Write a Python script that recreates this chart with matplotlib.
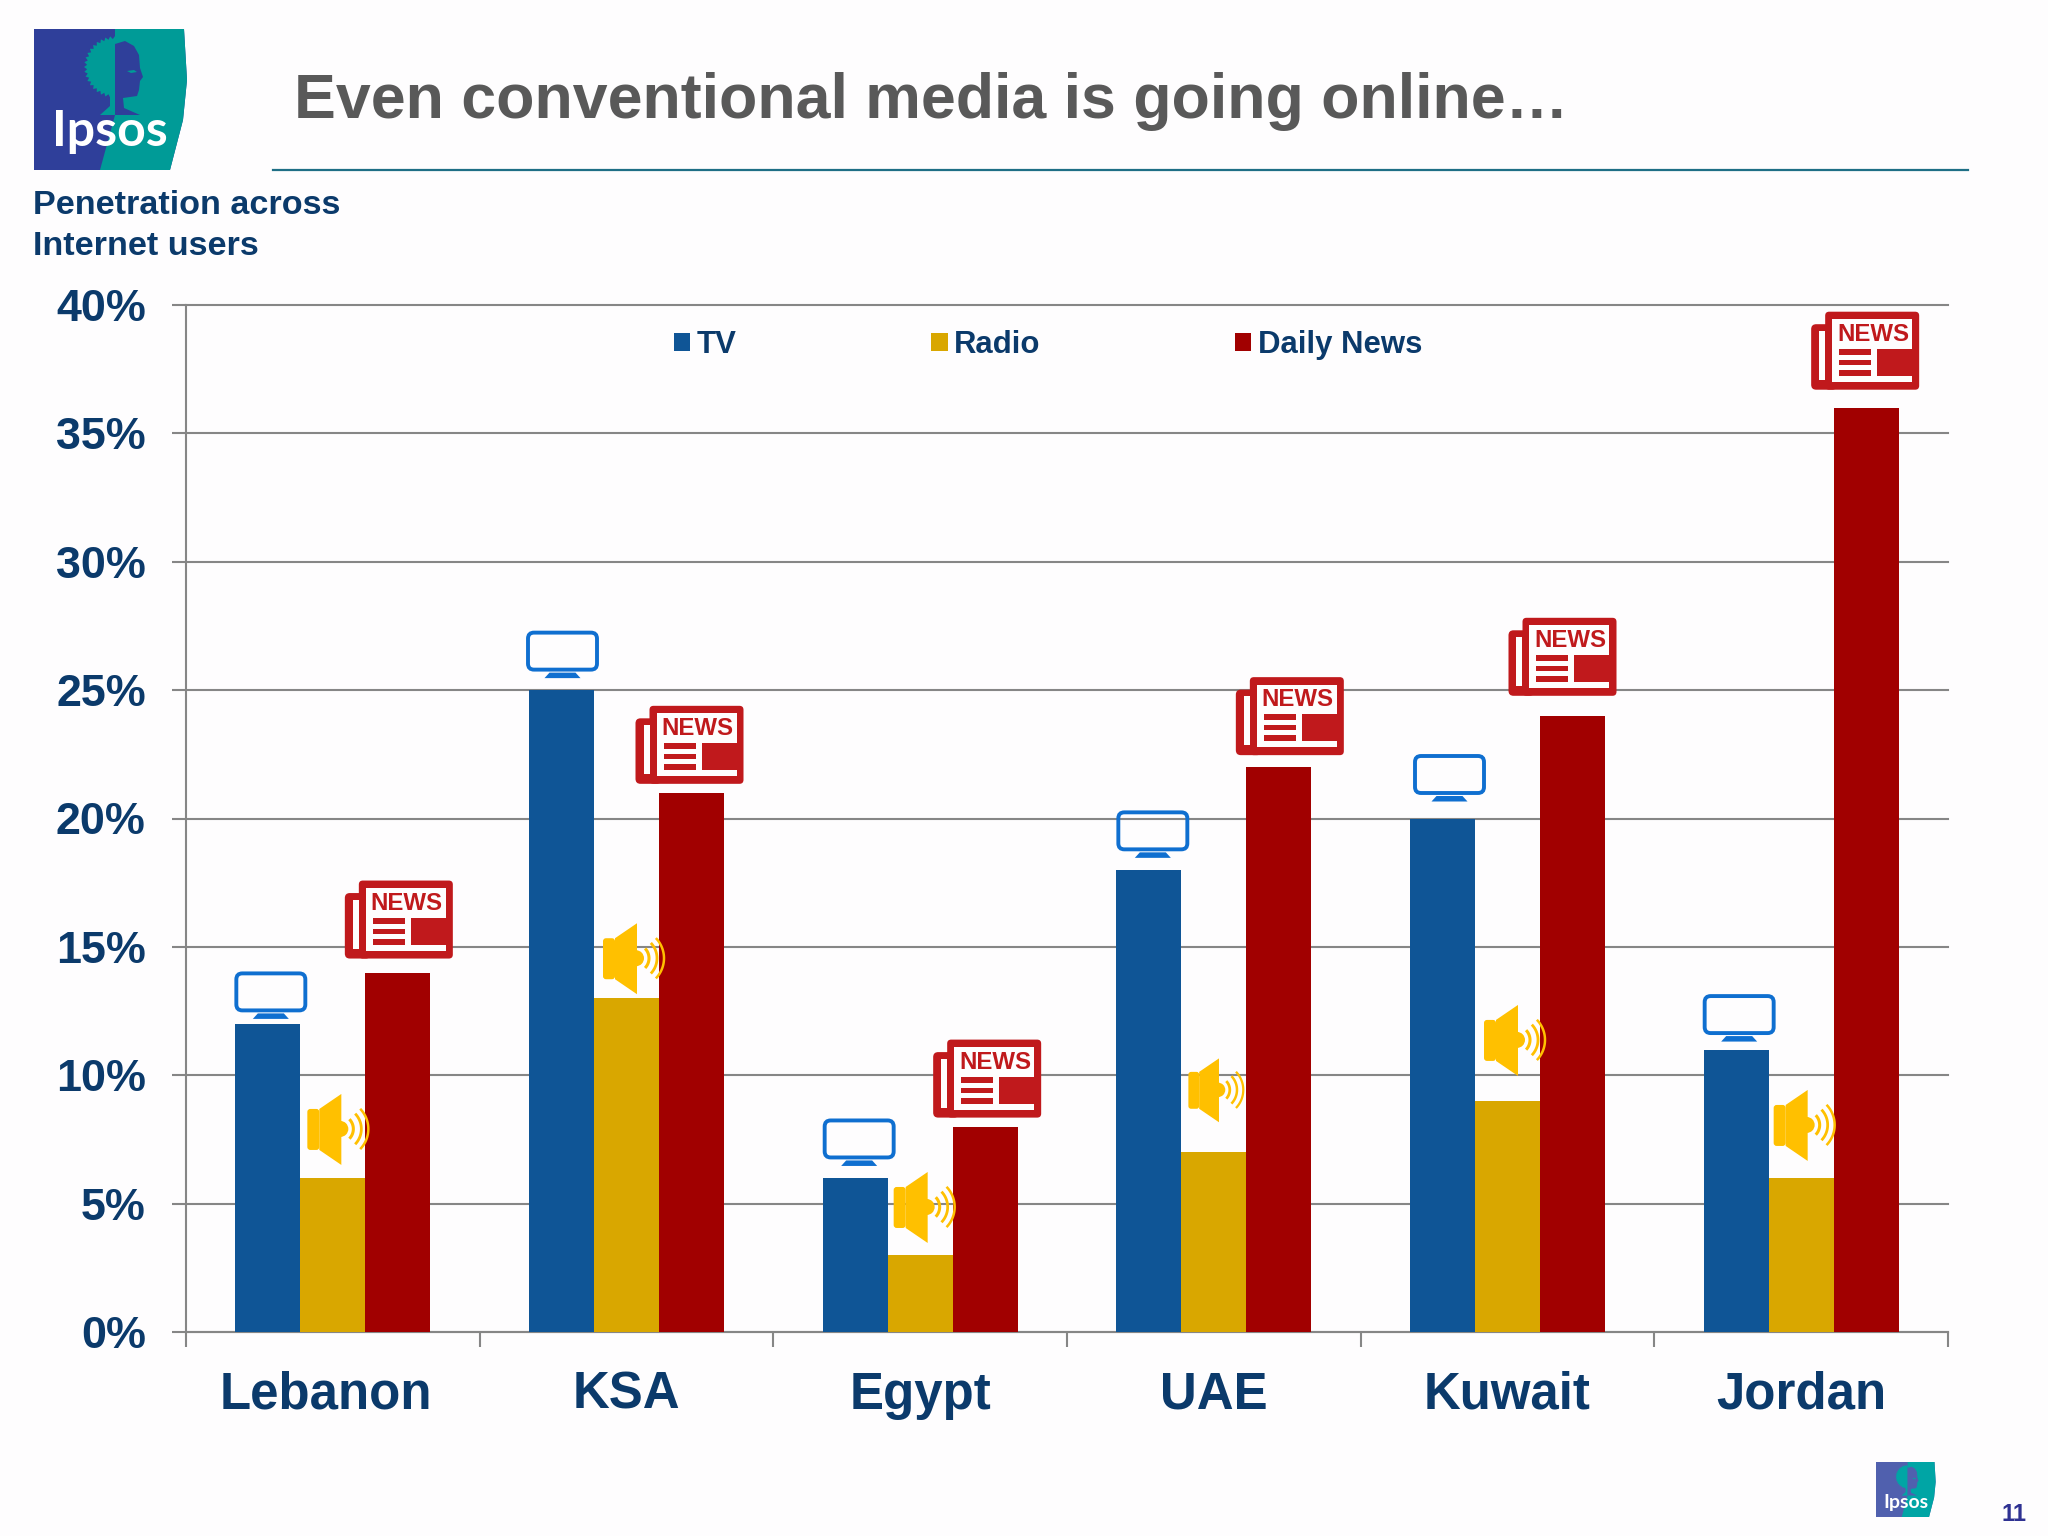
import numpy as np
import matplotlib
matplotlib.use('Agg')
from matplotlib import pyplot as plt
from matplotlib.patches import Circle, FancyBboxPatch, Polygon, Rectangle
from matplotlib.transforms import ScaledTranslation

countries = ['Lebanon', 'KSA', 'Egypt', 'UAE', 'Kuwait', 'Jordan']
tv = [12, 25, 6, 18, 20, 11]
radio = [6, 13, 3, 7, 9, 6]
daily_news = [14, 21, 8, 22, 24, 36]
y_ticks = [0, 5, 10, 15, 20, 25, 30, 35, 40]

W, H = 2048, 1536
BG = '#FEFDFE'
NAVY = '#0B3A6B'
GRID = '#868686'
TV_BLUE = '#0F5596'
GOLD = '#D9A700'
DARK_RED = '#A10000'
ICON_BLUE = '#0F6FD0'
ICON_RED = '#C0191C'
ICON_GOLD = '#FFC000'

# hand placed clip-art in the slide: (dx from bar centre, gap above bar) in px
tv_icon_offsets = [(3, 5), (1, 12), (4, 12), (4, 12), (7, 17), (3, 8)]
radio_icon_offsets = [(5, 13), (7, 4), (4, 12), (2, 30), (7, 25), (3, 17)]
radio_icon_scales = [1, 1, 1, 0.9, 1, 1]
news_icon_offsets = [(1, 14), (-2, 9), (2, 9), (11, 12), (-10, 20), (-1, 18)]

plt.rcParams['font.family'] = ['Liberation Sans', 'DejaVu Sans']
plt.rcParams['font.weight'] = 'bold'

fig = plt.figure(figsize=(W / 100, H / 100), dpi=100, facecolor=BG)
ax = fig.add_axes([186 / W, 1 - 1332 / H, (1948 - 186) / W, (1332 - 305) / H])
ax.set_facecolor('none')
over = fig.add_axes([0, 0, 1, 1], zorder=5)
over.set_xlim(0, W)
over.set_ylim(H, 0)
over.axis('off')

x = np.arange(len(countries)) + 0.5
width = 65 / ((1948 - 186) / 6)
bars_tv = ax.bar(x - width, tv, width, color=TV_BLUE, label='TV', zorder=3)
bars_radio = ax.bar(x, radio, width, color=GOLD, label='Radio', zorder=3)
bars_news = ax.bar(x + width, daily_news, width, color=DARK_RED, label='Daily News', zorder=3)

ax.set_xlim(0, 6)
ax.set_ylim(0, 40)
ax.set_yticks(y_ticks)
ax.set_yticklabels([f'{v}%' for v in y_ticks])
ax.set_xticks(range(7))
ax.set_xticklabels([])
ax.set_xticks(x, minor=True)
ax.set_xticklabels(countries, minor=True)
ax.tick_params(axis='y', length=10, width=1.5, color=GRID, labelsize=32.3, labelcolor=NAVY, pad=19)
ax.tick_params(axis='x', which='major', length=11, width=1.5, color=GRID)
ax.tick_params(axis='x', which='minor', length=0, labelsize=36.7, labelcolor=NAVY, pad=28)
ax.grid(axis='y', color=GRID, linewidth=1.5, zorder=0)
ax.set_axisbelow(True)
for line in ax.get_ygridlines():
    line.set_clip_on(False)
for side in ('top', 'right'):
    ax.spines[side].set_visible(False)
for side in ('left', 'bottom'):
    ax.spines[side].set_color(GRID)
    ax.spines[side].set_linewidth(1.5)

lebanon = ax.get_xticklabels(minor=True)[0]
lebanon.set_transform(lebanon.get_transform() + ScaledTranslation(-7 / 100, 0, fig.dpi_scale_trans))

ax.legend(handles=[bars_tv, bars_radio, bars_news], ncols=3, frameon=False, loc='center left',
          bbox_to_anchor=(674 / W, 1 - 345 / H), bbox_transform=fig.transFigure,
          fontsize=22.4, labelcolor=NAVY, handlelength=0.52, handleheight=0.52,
          handletextpad=0.22, columnspacing=6.25, borderpad=0, borderaxespad=0)


def to_px(xv, yv):
    px, py = ax.transData.transform((xv, yv))
    return px, H - py


def draw_logo(x0, y0, s, blue, teal, label_size):
    def p(pts):
        return [(x0 + (a - 34) * s, y0 + (b - 29) * s) for a, b in pts]
    over.add_patch(Polygon(p([(34, 29), (184, 29), (187, 80), (183, 120), (170, 170), (34, 170)]),
                           fc=blue, ec='none'))
    over.add_patch(Polygon(p([(115, 29), (184, 29), (187, 80), (183, 120), (170, 170), (100, 170), (115, 115)]),
                           fc=teal, ec='none'))
    # tree half of the head, jagged edge
    angles = np.radians(np.linspace(90, 270, 41))
    radii = np.where(np.arange(41) % 2 == 0, 31, 28)
    tree = [(115 + r * np.cos(a), 67 - r * np.sin(a)) for a, r in zip(angles, radii)]
    over.add_patch(Polygon(p(tree), fc=teal, ec='none'))
    over.add_patch(Polygon(p([(115, 90), (110, 93), (110, 106), (100, 115), (115, 115)]), fc=teal, ec='none'))
    face = [(115, 44), (125, 41), (134, 46), (139, 55), (140, 68), (143, 77), (140, 81), (139, 90),
            (137, 96), (123, 98), (124, 108), (140, 115), (115, 115)]
    over.add_patch(Polygon(p(face), fc=blue, ec='none'))
    over.add_patch(Polygon(p([(127, 71), (134, 70), (137, 72), (131, 73)]), fc=teal, ec='none'))
    over.text(x0 + (110 - 34) * s, y0 + (146 - 29) * s, 'Ipsos', color='white', family='Lato',
              fontweight='bold', fontsize=label_size, ha='center', va='baseline')


def draw_tv(cx, bottom):
    left, top = cx - 36.5, bottom - 47.5
    over.add_patch(FancyBboxPatch((left + 7, top + 7), 59, 27, boxstyle='round,pad=5,rounding_size=6',
                                  fc='none', ec=ICON_BLUE, lw=2.8))
    over.add_patch(Polygon([(cx - 13, bottom - 5.5), (cx + 13, bottom - 5.5), (cx + 18, bottom), (cx - 18, bottom)],
                           fc=ICON_BLUE, ec='none'))


def draw_speaker(cx, bottom, s):
    left, top = cx - 30.5 * s, bottom - 71 * s

    def p(pts):
        return [(left + a * s, top + b * s) for a, b in pts]
    over.add_patch(FancyBboxPatch((left + 2 * s, top + 17 * s), 8 * s, 37 * s,
                                  boxstyle=f'round,pad={2 * s},rounding_size={3 * s}', fc=ICON_GOLD, ec='none'))
    over.add_patch(Polygon(p([(12, 15), (34, 0), (34, 71), (12, 56)]), fc=ICON_GOLD, ec='none'))
    over.add_patch(Circle((left + 33 * s, top + 35 * s), 8 * s, fc=ICON_GOLD, ec='none'))
    for r, lw in ((14, 2.2), (22, 2.0), (29, 1.8)):
        t = np.radians(np.linspace(-44, 44, 30))
        over.plot(left + (32 + r * np.cos(t)) * s, top + (35 + r * np.sin(t)) * s,
                  color=ICON_GOLD, lw=lw * s, solid_capstyle='butt')


def draw_news(cx, bottom):
    left, top = cx - 54, bottom - 78

    def box(x0, y0, x1, y1, color=ICON_RED):
        over.add_patch(Rectangle((left + x0, top + y0), x1 - x0, y1 - y0, fc=color, ec='none'))
    over.add_patch(FancyBboxPatch((left + 17, top + 3), 88, 72, boxstyle='round,pad=3,rounding_size=4',
                                  fc=ICON_RED, ec='none'))
    over.add_patch(FancyBboxPatch((left + 3, top + 15.5), 20, 59.5, boxstyle='round,pad=3,rounding_size=5',
                                  fc=ICON_RED, ec='none'))
    box(8, 19, 14, 68, BG)
    box(21, 7.5, 101, 70, BG)
    box(66, 37, 101, 64)
    for y0, y1 in ((37, 43), (48, 53), (58, 64)):
        box(28, y0, 60, y1)
    over.text(left + 62, top + 29, 'NEWS', color=ICON_RED, fontsize=17.3, ha='center', va='baseline')


for i in range(len(countries)):
    cx, by = to_px(x[i] - width, tv[i])
    draw_tv(cx + tv_icon_offsets[i][0], by - tv_icon_offsets[i][1])
    cx, by = to_px(x[i], radio[i])
    draw_speaker(cx + radio_icon_offsets[i][0], by - radio_icon_offsets[i][1], radio_icon_scales[i])
    cx, by = to_px(x[i] + width, daily_news[i])
    draw_news(cx + news_icon_offsets[i][0], by - news_icon_offsets[i][1])

draw_logo(34, 29, 1, '#2F3F9A', '#009B97', 36)
draw_logo(1876, 1462, 0.39, '#5060AE', '#00A5A5', 14)

over.text(294, 118, 'Even conventional media is going online…', color='#595959',
          fontsize=45.1, ha='left', va='baseline')
over.plot([273, 1968], [170, 170], color='#1F6F86', lw=1.6)
over.text(33, 214, 'Penetration across', color=NAVY, fontsize=24.6, ha='left', va='baseline')
over.text(33, 255, 'Internet users', color=NAVY, fontsize=24.6, ha='left', va='baseline')
over.text(2014, 1521, '11', color='#2E3192', fontsize=17, ha='center', va='baseline')

fig.savefig('out.png', dpi=100, facecolor=BG)
